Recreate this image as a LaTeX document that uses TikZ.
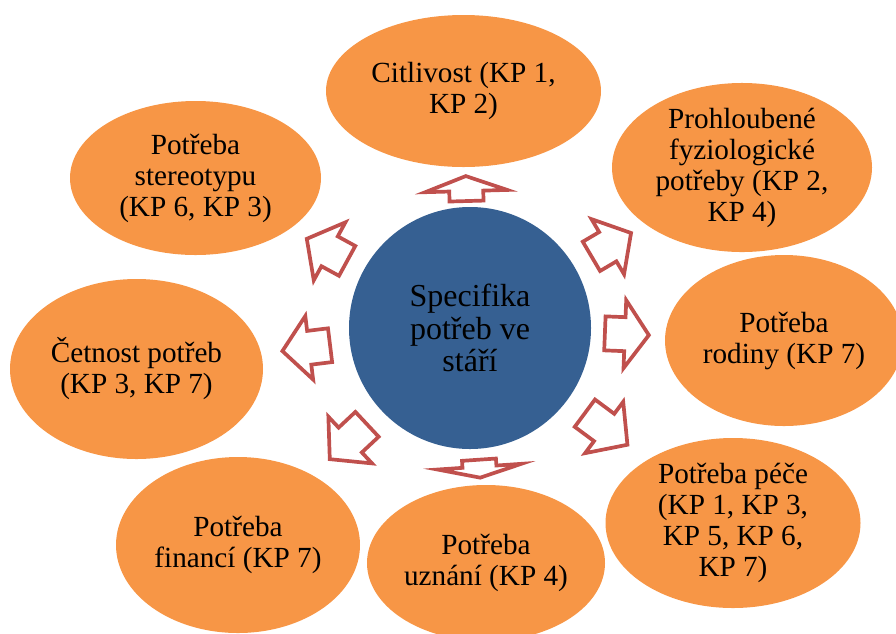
\documentclass[tikz,border=0pt]{standalone}
\usepackage{fontspec}
\setmainfont{Liberation Serif}
\usetikzlibrary{calc}
\usetikzlibrary{shapes.geometric}

\definecolor{needorange}{RGB}{247,150,70}
\definecolor{specblue}{RGB}{54,96,146}
\definecolor{arrowred}{RGB}{192,80,77}

% outlined block arrow from the centre towards a need:
% #1 target, #2 start, #3 body, #4 head, #5 half width of head
\newcommand{\needarrow}[5]{%
  \pgfmathanglebetweenpoints{\pgfpointanchor{spec}{center}}{\pgfpointanchor{#1}{center}}%
  \let\needangle\pgfmathresult
  \begin{scope}[shift={(spec)}, rotate=\needangle]
    \draw[block arrow] (#2, -17) -- (#2+#3, -17) -- (#2+#3, -#5) -- (#2+#3+#4, 0)
      -- (#2+#3, #5) -- (#2+#3, 17) -- (#2, 17) -- cycle;
  \end{scope}
}

\begin{document}
\begin{tikzpicture}[x=1pt, y=-1pt,
    need/.style={ellipse, fill=needorange, inner sep=0pt, align=center,
      font=\fontsize{29.2}{31}\selectfont},
    block arrow/.style={draw=arrowred, line width=3.7pt, line join=miter}]
  \useasboundingbox (0,0) rectangle (896,633);

  \node[need, minimum width=275pt, minimum height=152pt] (cit) at (463.5,91) {Citlivost (KP 1,\\KP 2)};
  \node[need, minimum width=260pt, minimum height=161pt] (fyz) at (742,167.5) {Prohloubené\\fyziologické\\potřeby (KP 2,\\KP 4)};
  \node[need, minimum width=238pt, minimum height=171pt] (rod) at (784,340.5) {Potřeba\\rodiny (KP 7)};
  \node[need, minimum width=255pt, minimum height=170pt] (pece) at (733,523) {Potřeba péče\\(KP 1, KP 3,\\KP 5, KP 6,\\KP 7)};
  \node[need, minimum width=238pt, minimum height=156pt] (uzn) at (486,563) {Potřeba\\uznání (KP 4)};
  \node[need, minimum width=244pt, minimum height=176pt] (fin) at (238,545) {Potřeba\\financí (KP 7)};
  \node[need, minimum width=253pt, minimum height=180pt] (cet) at (136.5,369) {Četnost potřeb\\(KP 3, KP 7)};
  \node[need, minimum width=251pt, minimum height=154pt] (ster) at (195.5,178) {Potřeba\\stereotypu\\(KP 6, KP 3)};

  \node[circle, fill=specblue, minimum size=242pt, inner sep=0pt, align=center,
    font=\fontsize{32}{32.5}\selectfont] (spec) at (470,328) {Specifika\\potřeb ve\\stáří};

  \needarrow{cit}{127}{10}{15}{41}
  \needarrow{fyz}{141}{19}{27}{32}
  \needarrow{rod}{135}{20}{24}{34}
  \needarrow{pece}{143}{24}{29}{32}
  \needarrow{uzn}{132}{7}{11}{42}
  \needarrow{fin}{141}{23}{28}{32}
  \needarrow{cet}{141}{21}{27}{32}
  \needarrow{ster}{140}{20}{26}{33}
\end{tikzpicture}
\end{document}
